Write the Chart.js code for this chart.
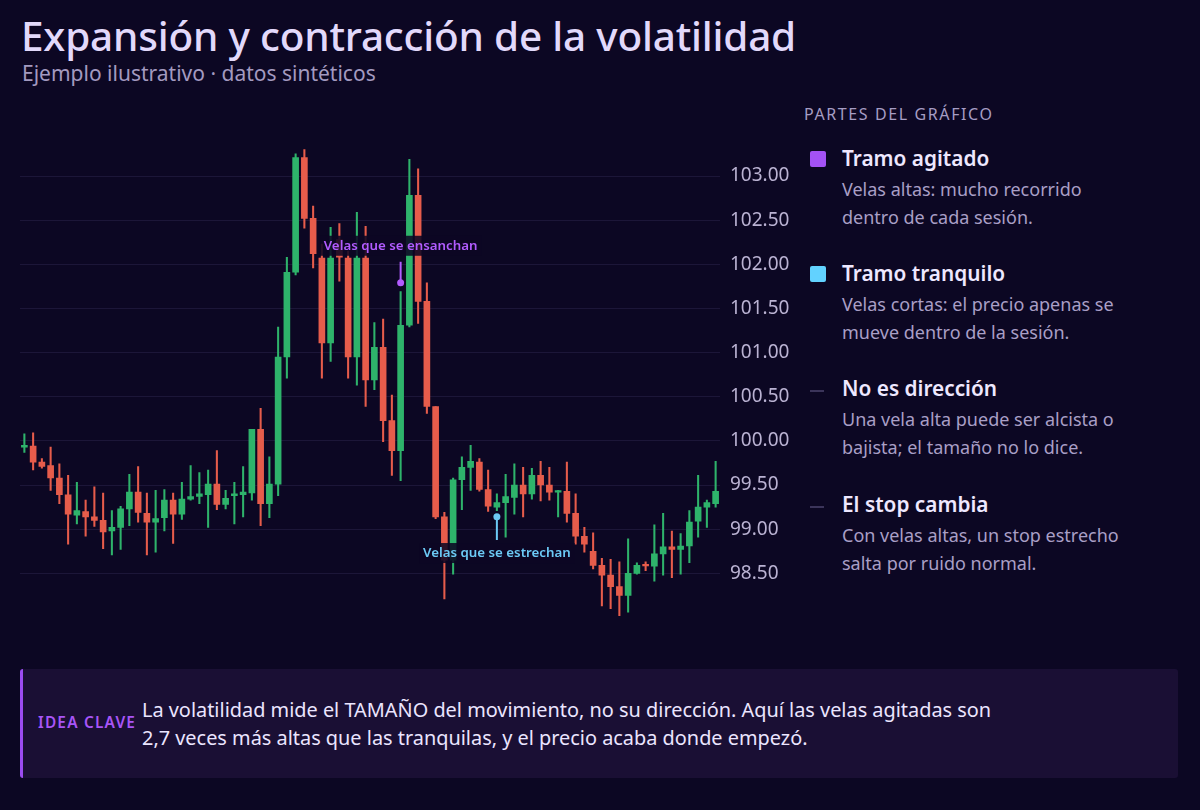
<!DOCTYPE html>
<html><head><meta charset="utf-8">
<script src="https://cdn.jsdelivr.net/npm/chart.js@4.4.0/dist/chart.umd.min.js"></script>
<style>
html,body{margin:0;padding:0}
body{width:1200px;height:810px;background:#0c0723;font-family:"Noto Sans",sans-serif;overflow:hidden;position:relative}
#title{position:absolute;left:21px;top:8px;font-size:40.5px;font-weight:500;color:#e2d9fb;white-space:nowrap;letter-spacing:-0.2px}
#subtitle{position:absolute;left:22px;top:59px;font-size:21px;color:#a39ac0;white-space:nowrap}
#chartBox{position:absolute;left:0;top:130px;width:800px;height:510px}
#legend{position:absolute;left:804px;top:100px;width:390px}
.lhead{position:absolute;left:0;top:3px;font-size:16px;letter-spacing:1.6px;color:#a69dc4;white-space:nowrap}
.item{position:absolute;left:0;width:390px}
.mk{position:absolute;left:6px;top:1px;width:16px;height:16px;border-radius:2px}
.ln{position:absolute;left:6px;top:10px;width:14px;height:1.5px;background:#3b345a}
.it{position:absolute;left:38px;top:-6px;font-size:20.8px;font-weight:600;color:#eee8ff;white-space:nowrap}
.id{position:absolute;left:38px;top:25px;font-size:18px;line-height:28px;color:#a99fc6;white-space:nowrap}
#key{position:absolute;left:20px;top:669px;width:1158px;height:109px;background:#1a0f34;border-left:3px solid #9b4cf0;border-radius:3px;box-sizing:border-box}
#keyLab{position:absolute;left:15px;top:43px;font-size:15.4px;font-weight:600;letter-spacing:1.2px;color:#a855f7;white-space:nowrap}
#keyTxt{position:absolute;left:119px;top:27px;font-size:19.9px;line-height:28px;color:#ebe5ff;white-space:nowrap}
</style></head><body>
<div id="title">Expansión y contracción de la volatilidad</div>
<div id="subtitle">Ejemplo ilustrativo · datos sintéticos</div>
<div id="chartBox"><canvas id="c"></canvas></div>
<div id="legend">
  <div class="lhead">PARTES DEL GRÁFICO</div>
  <div class="item" style="top:50px"><div class="mk" style="background:#a452f5"></div><div class="it">Tramo agitado</div><div class="id">Velas altas: mucho recorrido<br>dentro de cada sesión.</div></div>
  <div class="item" style="top:165px"><div class="mk" style="background:#62d2ff"></div><div class="it">Tramo tranquilo</div><div class="id">Velas cortas: el precio apenas se<br>mueve dentro de la sesión.</div></div>
  <div class="item" style="top:280px"><div class="ln"></div><div class="it">No es dirección</div><div class="id">Una vela alta puede ser alcista o<br>bajista; el tamaño no lo dice.</div></div>
  <div class="item" style="top:396px"><div class="ln"></div><div class="it">El stop cambia</div><div class="id">Con velas altas, un stop estrecho<br>salta por ruido normal.</div></div>
</div>
<div id="key">
  <div id="keyLab">IDEA CLAVE</div>
  <div id="keyTxt">La volatilidad mide el TAMAÑO del movimiento, no su dirección. Aquí las velas agitadas son<br>2,7 veces más altas que las tranquilas, y el precio acaba donde empezó.</div>
</div>
<script>
// ---- data ----
const opens = [99.93,99.94,99.76,99.72,99.58,99.39,99.16,99.20,99.14,99.10,
  98.98,99.02,99.23,99.42,99.18,99.08,99.13,99.33,99.17,99.34,
  99.37,99.39,99.51,99.28,99.38,99.39,99.41,100.13,99.29,99.51,
  100.95,101.91,103.21,102.52,102.07,101.11,102.28,102.07,100.95,102.07,
  100.69,101.06,100.23,99.89,101.31,102.78,101.58,100.39,99.14,98.65,
  99.56,99.70,99.76,99.45,99.25,99.30,99.36,99.50,99.40,99.61,
  99.50,99.42,99.43,99.18,98.92,98.75,98.59,98.48,98.35,98.25,
  98.50,98.595,98.58,98.72,98.80,98.77,98.81,99.09,99.25,99.29];
const highs = [100.08,100.09,99.80,99.93,99.74,99.61,99.53,99.33,99.48,99.41,
  99.21,99.26,99.62,99.71,99.41,99.44,99.45,99.41,99.53,99.72,
  99.64,99.67,99.89,99.44,99.53,99.71,100.13,100.37,99.82,101.29,
  102.08,103.25,103.30,102.66,102.23,102.42,102.46,102.15,102.59,102.43,
  101.34,101.38,100.52,101.69,103.19,103.08,101.79,100.39,99.19,99.58,
  99.82,99.95,99.80,99.67,99.40,99.62,99.74,99.70,99.69,99.77,
  99.70,99.44,99.76,99.40,99.02,98.96,98.67,98.66,98.63,98.89,
  98.62,98.63,99.05,99.18,98.98,98.95,99.21,99.61,99.33,99.77];
const lows = [99.87,99.67,99.69,99.44,99.29,98.83,99.06,98.92,99.03,98.78,
  98.71,98.77,99.04,99.08,98.71,98.74,98.98,98.84,99.11,99.33,
  99.29,99.02,99.22,99.23,99.06,99.14,99.33,99.04,99.13,99.38,
  100.71,101.88,102.41,101.96,100.71,100.90,101.81,100.71,100.63,100.39,
  100.58,99.99,99.61,99.55,101.29,101.33,100.31,99.12,98.21,98.49,
  99.22,99.44,99.43,99.20,99.21,98.91,99.17,99.14,99.34,99.32,
  99.33,99.14,99.08,98.83,98.74,98.55,98.13,98.10,98.02,98.06,
  98.49,98.53,98.41,98.48,98.45,98.49,98.62,98.91,99.02,99.25];
const closes = [99.95,99.76,99.71,99.58,99.39,99.17,99.21,99.14,99.10,98.97,
  99.02,99.23,99.42,99.19,99.08,99.12,99.33,99.17,99.34,99.37,
  99.40,99.51,99.28,99.35,99.40,99.42,100.13,99.29,99.51,100.95,
  101.91,103.21,102.52,102.12,101.11,102.07,102.08,100.95,102.07,100.69,
  101.06,100.23,99.89,101.31,102.78,101.58,100.39,99.14,98.65,99.56,
  99.70,99.77,99.45,99.26,99.30,99.37,99.50,99.40,99.61,99.50,
  99.42,99.43,99.18,98.92,98.83,98.59,98.48,98.35,98.25,98.50,
  98.59,98.585,98.72,98.80,98.77,98.81,99.08,99.25,99.30,99.43];
const sessions = opens.map((_, i) => 'Sesión ' + (i + 1));
const yTicks = [98.5, 99, 99.5, 100, 100.5, 101, 101.5, 102, 102.5, 103];
const notes = [
  {index: 43, value: 101.79, labelValue: 102.21, text: 'Velas que se ensanchan', color: '#b25cff', above: true},
  {index: 54, value: 99.14, labelValue: 98.73, text: 'Velas que se estrechan', color: '#6ccaf6', above: false}
];

const UP = '#2eb36b', DOWN = '#e65c4b';
const colors = closes.map((c, i) => c >= opens[i] ? UP : DOWN);

const notePlugin = {
  id: 'notes',
  afterDatasetsDraw(chart) {
    const ctx = chart.ctx, xs = chart.scales.x, ys = chart.scales.y;
    notes.forEach(n => {
      const x = xs.getPixelForValue(n.index);
      const yDot = ys.getPixelForValue(n.value);
      const yLab = ys.getPixelForValue(n.labelValue);
      ctx.save();
      ctx.font = '600 13.3px "Noto Sans", sans-serif';
      const w = ctx.measureText(n.text).width;
      ctx.fillStyle = 'rgba(12,7,35,0.88)';
      ctx.fillRect(x - w / 2 - 4, yLab - 10, w + 8, 20);
      ctx.fillStyle = n.color;
      ctx.textAlign = 'center';
      ctx.textBaseline = 'middle';
      ctx.fillText(n.text, x, yLab);
      ctx.strokeStyle = n.color;
      ctx.lineWidth = 2;
      ctx.beginPath();
      if (n.above) { ctx.moveTo(x, yLab + 16); ctx.lineTo(x, yDot); }
      else { ctx.moveTo(x, yDot); ctx.lineTo(x, yLab - 13); }
      ctx.stroke();
      ctx.beginPath();
      ctx.arc(x, yDot, 3.5, 0, Math.PI * 2);
      ctx.fill();
      ctx.restore();
    });
  }
};

new Chart(document.getElementById('c'), {
  type: 'bar',
  data: {
    labels: sessions,
    datasets: [
      {
        label: 'Cuerpo',
        data: opens.map((o, i) => [o, closes[i]]),
        backgroundColor: colors,
        barThickness: 6,
        minBarLength: 1.5,
        grouped: false,
        order: 1
      },
      {
        label: 'Mecha',
        data: lows.map((l, i) => [l, highs[i]]),
        backgroundColor: colors,
        barThickness: 1.4,
        grouped: false,
        order: 2
      }
    ]
  },
  options: {
    responsive: true,
    maintainAspectRatio: false,
    animation: false,
    layout: {padding: {left: 20, right: 0, top: 10.7, bottom: 18.1}},
    plugins: {legend: {display: false}, tooltip: {enabled: false}},
    scales: {
      x: {display: false, offset: true, grid: {display: false}},
      y: {
        position: 'right',
        min: 97.95,
        max: 103.4,
        afterBuildTicks(scale) { scale.ticks = yTicks.map(v => ({value: v})); },
        afterFit(scale) { scale.width = 80; scale.paddingTop = 0; scale.paddingBottom = 0; },
        border: {display: false},
        grid: {color: 'rgba(150,130,210,0.12)', drawTicks: false, lineWidth: 1},
        ticks: {
          padding: 10,
          color: '#bab2d2',
          font: {family: '"Noto Sans", sans-serif', size: 19},
          callback: v => Number(v).toFixed(2)
        }
      }
    }
  },
  plugins: [notePlugin]
});
</script>
</body></html>
